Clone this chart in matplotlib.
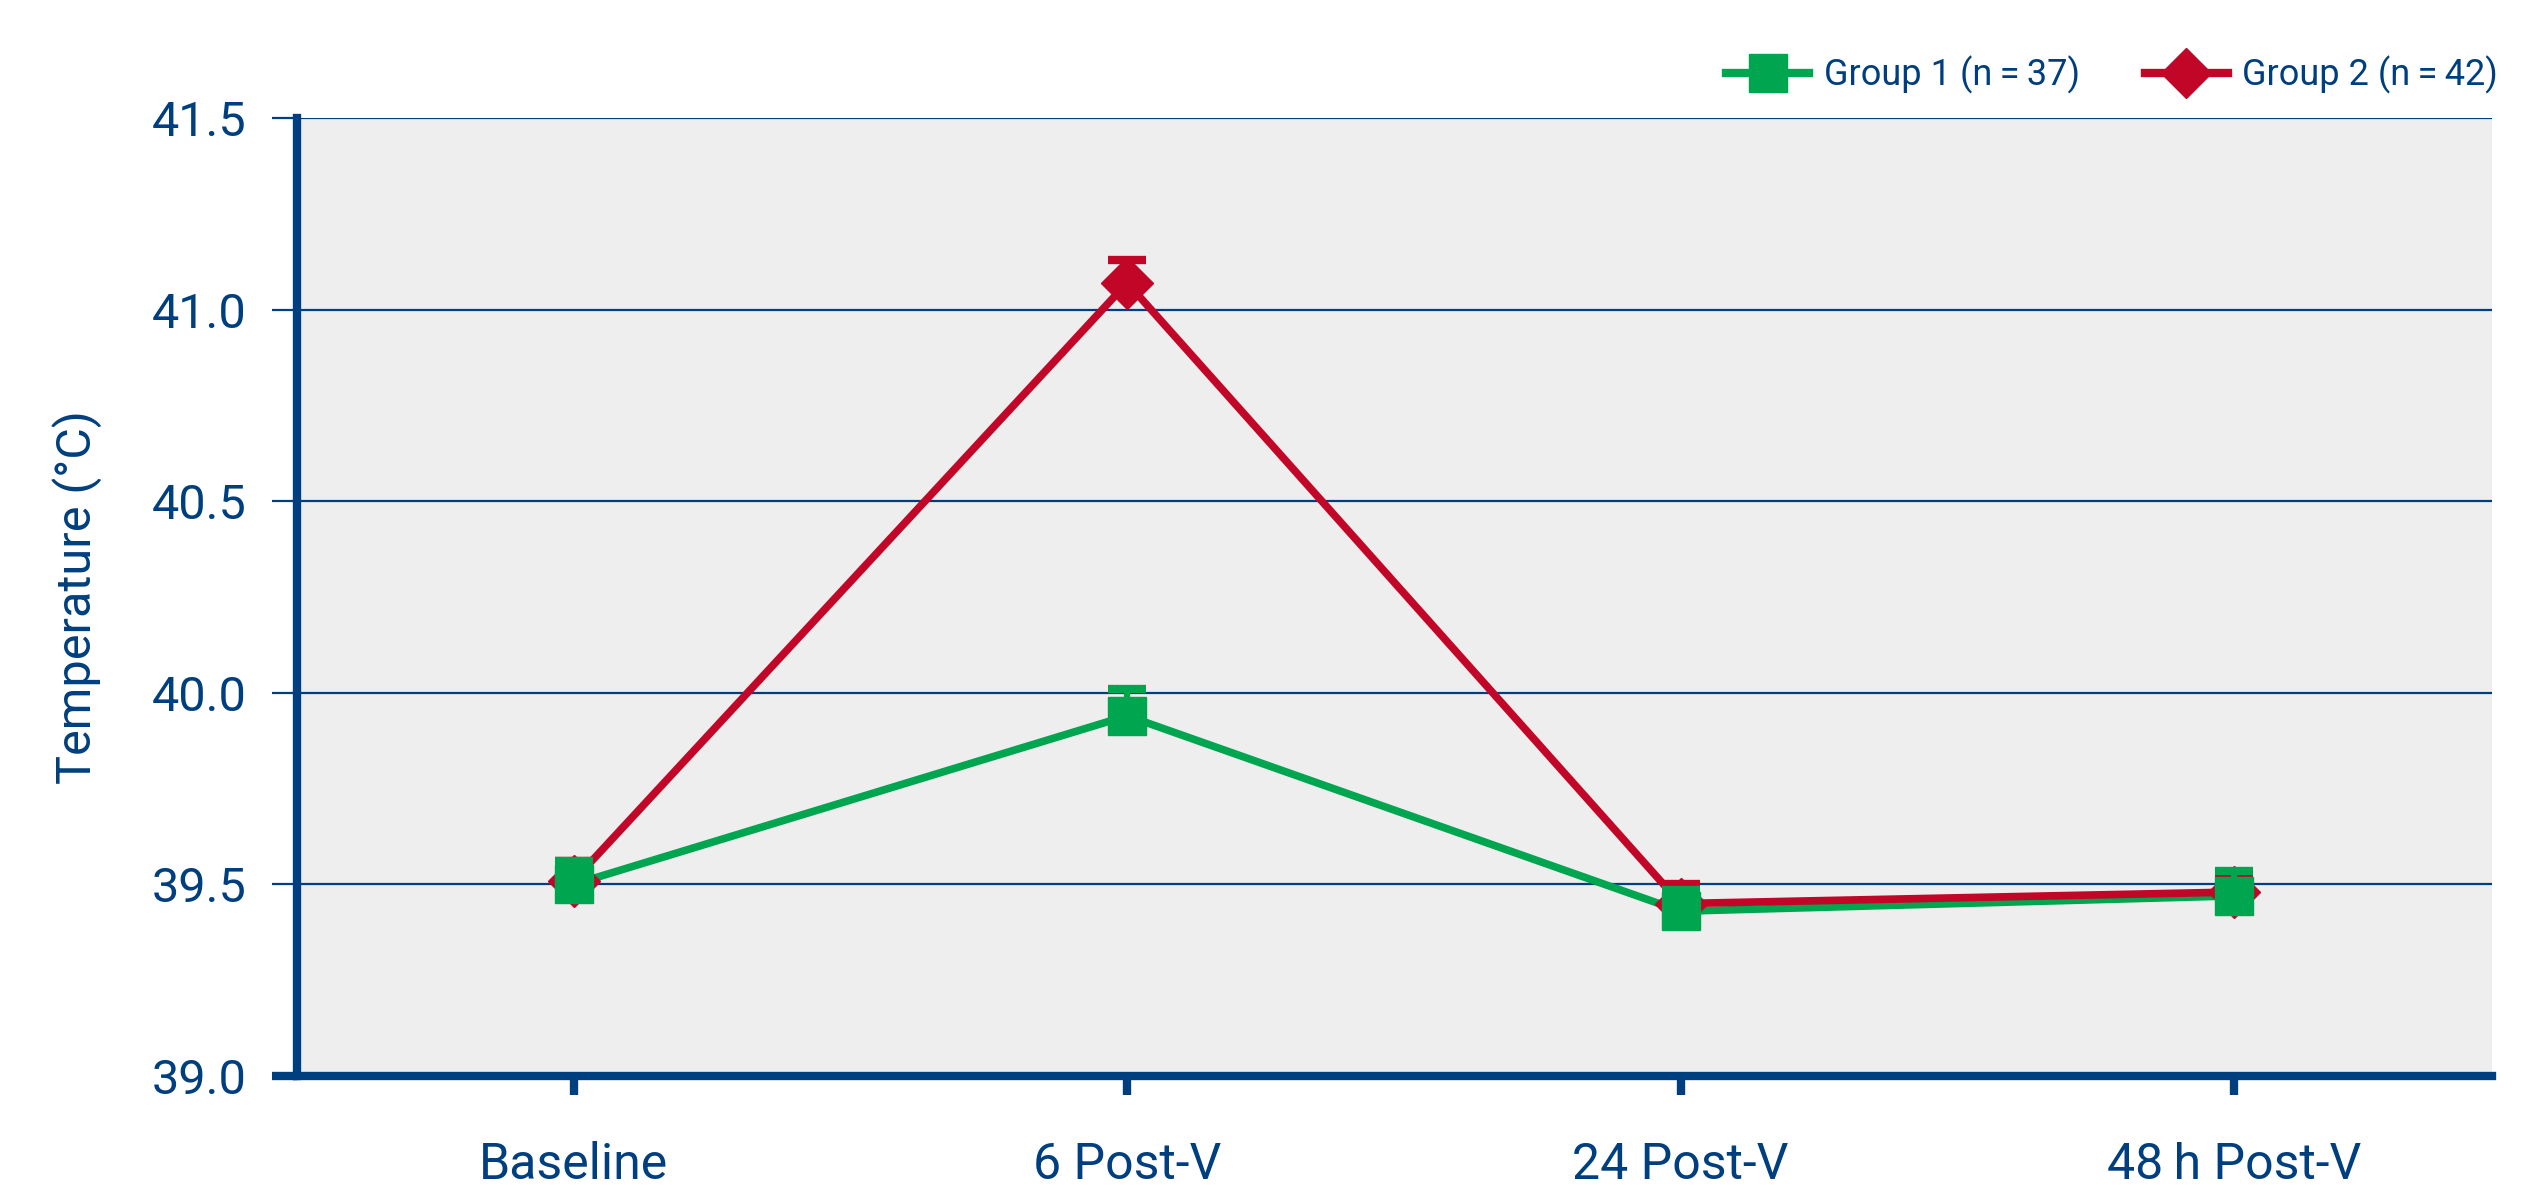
import numpy as np
import matplotlib
matplotlib.use("Agg")
import matplotlib.pyplot as plt
from matplotlib.lines import Line2D

plt.rcParams['font.family'] = ['Roboto', 'DejaVu Sans']

# data
timepoints = ["Baseline", "6 Post-V", "24 Post-V", "48\u2009h Post-V"]
group1 = [39.50, 39.94, 39.43, 39.47]
group1_err = [0.06, 0.07, 0.055, 0.065]
group2 = [39.51, 41.07, 39.45, 39.48]
group2_err = [0.05, 0.06, 0.05, 0.05]
labels = ["Group 1 (n\u2009=\u200937)", "Group 2 (n\u2009=\u200942)"]
yticks = [39.0, 39.5, 40.0, 40.5, 41.0, 41.5]

navy = '#003f7f'
green = '#00a54f'
red = '#c10628'

fig = plt.figure(figsize=(25.44, 11.85), dpi=100)
ax = fig.add_axes([0.1167, 0.092, 0.8629, 0.8084])
ax.set_facecolor('#eeeeee')

x = np.arange(len(timepoints))

ax.plot(x, group1, color=green, lw=5.5, zorder=3)
ax.plot(x, group2, color=red, lw=5.5, zorder=4)
ax.errorbar(x, group2, yerr=[np.zeros(len(x)), group2_err], fmt='D', ms=26,
            color=red, ecolor=red, elinewidth=4.5, capsize=14, capthick=6, zorder=5)
ax.errorbar(x, group1, yerr=[np.zeros(len(x)), group1_err], fmt='s', ms=27,
            color=green, ecolor=green, elinewidth=4.5, capsize=14, capthick=6, zorder=6)

ax.set_xlim(-0.5, 3.466)
ax.set_ylim(39.0, 41.5)
ax.set_yticks(yticks)
ax.set_yticklabels([f"{v:.1f}" for v in yticks])
ax.set_xticks(x)
ax.set_xticklabels(timepoints)

ax.yaxis.grid(True, color=navy, lw=1.6, zorder=1)
ax.set_axisbelow(True)

for s in ['top', 'right']:
    ax.spines[s].set_visible(False)
for s in ['left', 'bottom']:
    ax.spines[s].set_color(navy)
    ax.spines[s].set_linewidth(6)

ax.tick_params(axis='y', length=18, width=1.6, color=navy, labelcolor=navy,
               labelsize=35, pad=18)
ax.tick_params(axis='x', length=14, width=6, color=navy, labelcolor=navy,
               labelsize=36, pad=33)
# bottom tick (39.0) is as heavy as the axis line
ax.yaxis.get_major_ticks()[0].tick1line.set_markeredgewidth(6)

ax.set_ylabel("Temperature (\u00b0C)", fontsize=35, color=navy, labelpad=36)

handles = [
    Line2D([], [], color=green, lw=6, marker='s', ms=27),
    Line2D([], [], color=red, lw=6, marker='D', ms=25),
]
fig.legend(handles, labels, loc='center right', bbox_to_anchor=(0.982, 0.937),
           ncol=2, frameon=False, fontsize=26, labelcolor=navy,
           handlelength=2.3, handletextpad=0.4, columnspacing=1.8,
           borderpad=0, borderaxespad=0)

fig.savefig("out.png", dpi=100)
